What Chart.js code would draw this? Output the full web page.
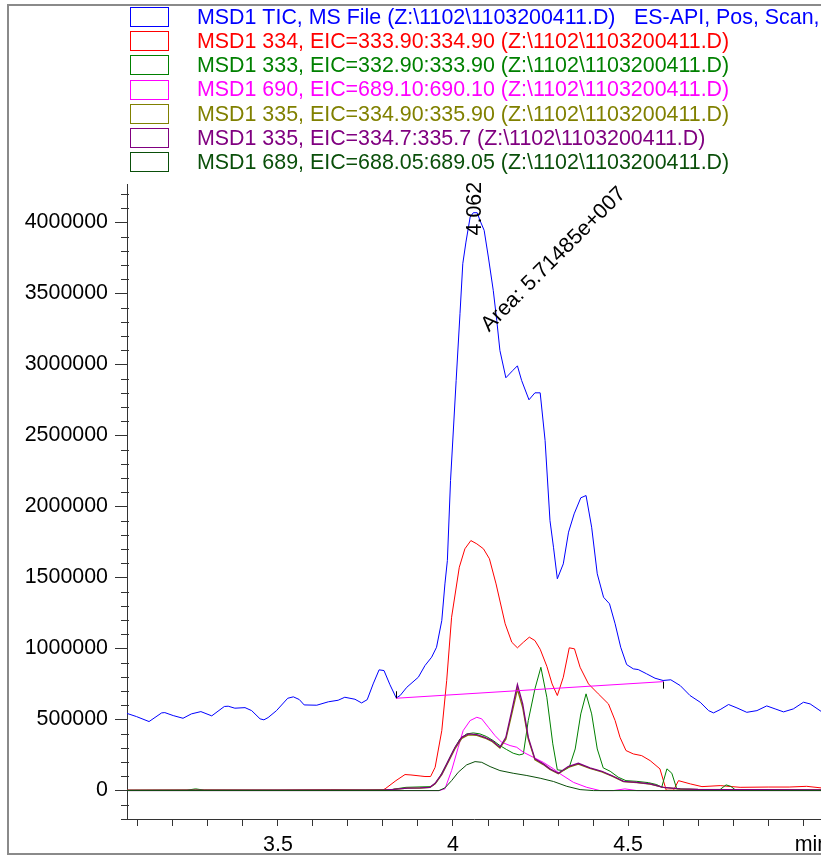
<!DOCTYPE html>
<html>
<head>
<meta charset="utf-8">
<script src="https://cdn.jsdelivr.net/npm/chart.js@4/dist/chart.umd.min.js"></script>
<style>
  html, body { margin: 0; padding: 0; background: #fff; }
  #chart { display: block; }
</style>
</head>
<body>
<canvas id="chart" width="821" height="856"></canvas>
<script>
// ===== MSD1 chromatogram (TIC + EICs) - Chart.js =====

// --- data (time in min, abundance in counts) ---
const ticTimes = [3.068, 3.096, 3.132, 3.168, 3.177, 3.201, 3.229, 3.253, 3.280, 3.311, 3.347, 3.358, 3.377, 3.406,
    3.425, 3.449, 3.460, 3.472, 3.496, 3.528, 3.544, 3.561, 3.575, 3.611, 3.644, 3.672, 3.691, 3.720, 3.739, 3.755,
    3.772, 3.789, 3.803, 3.820, 3.838, 3.849, 3.868, 3.901, 3.920, 3.939, 3.953, 3.968, 3.977, 3.984, 3.993, 4.009,
    4.020, 4.028, 4.037, 4.049, 4.058, 4.069, 4.077, 4.089, 4.101, 4.115, 4.125, 4.134, 4.151, 4.171, 4.184, 4.196,
    4.217, 4.234, 4.249, 4.263, 4.277, 4.287, 4.298, 4.315, 4.330, 4.346, 4.365, 4.380, 4.396, 4.412, 4.430, 4.447,
    4.463, 4.479, 4.496, 4.515, 4.529, 4.553, 4.577, 4.600, 4.622, 4.649, 4.677, 4.706, 4.730, 4.744, 4.763, 4.787,
    4.811, 4.839, 4.868, 4.896, 4.920, 4.944, 4.972, 5.001, 5.020, 5.051];
const ticValues = [544000, 521000, 486000, 547000, 549000, 528000, 509000, 540000, 556000, 526000, 592000, 594000, 580000, 584000,
    563000, 505000, 498000, 514000, 563000, 650000, 660000, 641000, 603000, 601000, 625000, 636000, 657000, 643000, 617000, 640000,
    751000, 850000, 845000, 745000, 652000, 669000, 727000, 798000, 880000, 939000, 1009000, 1197000, 1455000, 1620000, 2183000, 2887000,
    3357000, 3709000, 3861000, 4037000, 4068000, 4068000, 4014000, 3944000, 3756000, 3521000, 3310000, 3098000, 2906000, 2958000, 2990000, 2887000,
    2751000, 2800000, 2800000, 2465000, 1901000, 1713000, 1491000, 1596000, 1819000, 1948000, 2061000, 2077000, 1854000, 1526000, 1361000, 1315000,
    1174000, 1009000, 887000, 857000, 852000, 822000, 791000, 775000, 780000, 739000, 669000, 622000, 563000, 547000, 570000, 606000,
    582000, 551000, 563000, 596000, 575000, 554000, 575000, 622000, 610000, 558000];

const eic334Times = [3.069, 3.300, 3.500, 3.650, 3.750, 3.800, 3.806, 3.837, 3.863, 3.880, 3.906, 3.920, 3.936, 3.949,
    3.968, 3.982, 3.996, 4.018, 4.034, 4.051, 4.068, 4.087, 4.104, 4.123, 4.149, 4.168, 4.184, 4.201, 4.218, 4.234,
    4.249, 4.268, 4.283, 4.298, 4.315, 4.332, 4.347, 4.363, 4.387, 4.415, 4.444, 4.463, 4.477, 4.494, 4.515, 4.539,
    4.563, 4.591, 4.609, 4.630, 4.644, 4.678, 4.711, 4.763, 4.820, 4.900, 4.960, 5.010, 5.051];
const eic334Values = [3000, 4000, 3000, 6000, 4000, 6000, 12000, 70000, 113000, 110000, 103000, 99000, 99000, 164000,
    422000, 775000, 1220000, 1572000, 1702000, 1760000, 1737000, 1702000, 1632000, 1455000, 1174000, 1044000, 1005000, 1044000, 1080000, 1056000,
    995000, 875000, 751000, 669000, 798000, 1005000, 998000, 868000, 751000, 681000, 610000, 493000, 375000, 282000, 258000, 246000,
    211000, 153000, 3000, 3000, 70000, 47000, 28000, 35000, 23000, 25000, 25000, 30000, 19000];

const eic333Times = [3.069, 3.240, 3.265, 3.290, 3.500, 3.700, 3.800, 3.826, 3.866, 3.937, 3.949, 3.963, 3.982, 4.001,
    4.020, 4.039, 4.058, 4.077, 4.096, 4.115, 4.134, 4.153, 4.172, 4.189, 4.201, 4.215, 4.234, 4.251, 4.268, 4.285,
    4.298, 4.315, 4.332, 4.349, 4.365, 4.380, 4.396, 4.412, 4.429, 4.449, 4.472, 4.494, 4.525, 4.558, 4.582, 4.596,
    4.611, 4.625, 4.639, 4.700, 4.763, 4.780, 4.793, 4.806, 4.900, 5.051];
const eic333Values = [2000, 3000, 12000, 3000, 2000, 3000, 4000, 8000, 23000, 28000, 47000, 99000, 188000, 282000,
    364000, 399000, 406000, 399000, 380000, 352000, 317000, 289000, 263000, 251000, 258000, 493000, 716000, 868000, 657000, 329000,
    146000, 141000, 164000, 293000, 540000, 681000, 540000, 293000, 160000, 136000, 94000, 70000, 65000, 56000, 42000, 23000,
    153000, 122000, 12000, 8000, 8000, 40000, 30000, 6000, 4000, 3000];

const eic690Times = [3.069, 3.960, 3.977, 3.996, 4.015, 4.029, 4.049, 4.068, 4.082, 4.101, 4.120, 4.139, 4.163, 4.182,
    4.201, 4.229, 4.258, 4.287, 4.306, 4.344, 4.382, 4.420, 4.458, 4.491, 4.525, 5.051];
const eic690Values = [0, 0, 12000, 141000, 305000, 422000, 493000, 516000, 505000, 446000, 387000, 340000, 317000, 305000,
    270000, 235000, 199000, 153000, 118000, 58000, 23000, 0, 0, 12000, 0, 0];

const eic335aTimes = [3.069, 3.600, 3.800, 3.830, 3.870, 3.906, 3.934, 3.949, 3.968, 3.987, 4.006, 4.025, 4.044, 4.068,
    4.091, 4.111, 4.134, 4.151, 4.168, 4.184, 4.199, 4.215, 4.234, 4.258, 4.277, 4.301, 4.329, 4.358, 4.391, 4.425,
    4.453, 4.487, 4.525, 4.563, 4.601, 4.649, 4.700, 5.051];
const eic335aValues = [2000, 3000, 3000, 8000, 17000, 18000, 22000, 48000, 112000, 203000, 296000, 368000, 392000, 388000,
    370000, 347000, 300000, 362000, 540000, 712000, 585000, 362000, 216000, 183000, 149000, 119000, 164000, 187000, 156000, 132000,
    103000, 63000, 56000, 45000, 22000, 11000, 7000, 4000];

const eic335bTimes = [3.069, 3.600, 3.800, 3.830, 3.870, 3.906, 3.934, 3.949, 3.968, 3.987, 4.006, 4.025, 4.044, 4.068,
    4.091, 4.111, 4.134, 4.151, 4.168, 4.184, 4.199, 4.215, 4.234, 4.258, 4.277, 4.301, 4.329, 4.358, 4.391, 4.425,
    4.453, 4.487, 4.525, 4.563, 4.601, 4.649, 4.700, 5.051];
const eic335bValues = [2000, 3000, 3000, 8000, 18000, 19000, 23000, 51000, 117000, 211000, 305000, 375000, 399000, 394000,
    375000, 352000, 305000, 375000, 563000, 746000, 610000, 375000, 223000, 188000, 153000, 122000, 169000, 192000, 160000, 136000,
    106000, 65000, 58000, 47000, 23000, 12000, 8000, 4000];

const eic689Times = [3.069, 3.960, 3.977, 3.996, 4.015, 4.039, 4.063, 4.082, 4.106, 4.134, 4.172, 4.211, 4.249, 4.287,
    4.325, 4.363, 4.401, 5.051];
const eic689Values = [0, 0, 19000, 70000, 129000, 181000, 204000, 199000, 169000, 141000, 122000, 106000, 87000, 64000,
    30000, 7000, 0, 0];

// integration baseline of the TIC peak
const baselineTimes = [3.837, 4.601];
const baselineValues = [650000, 767000];

// axis ticks ('min' sits just right of the 5.0 tick, partly cut by the edge)
const xLabelTicks = [3.5, 4, 4.5, 5.025];
const xLabelTexts = ['3.5', '4', '4.5', 'min'];
const xUnitTick = 5.025;
const yLabelTicks = [0, 500000, 1000000, 1500000, 2000000, 2500000, 3000000, 3500000, 4000000];

const seriesLabels = [
    'MSD1 TIC, MS File (Z:\\1102\\1103200411.D)',
    'MSD1 334, EIC=333.90:334.90 (Z:\\1102\\1103200411.D)',
    'MSD1 333, EIC=332.90:333.90 (Z:\\1102\\1103200411.D)',
    'MSD1 690, EIC=689.10:690.10 (Z:\\1102\\1103200411.D)',
    'MSD1 335, EIC=334.90:335.90 (Z:\\1102\\1103200411.D)',
    'MSD1 335, EIC=334.7:335.7 (Z:\\1102\\1103200411.D)',
    'MSD1 689, EIC=688.05:689.05 (Z:\\1102\\1103200411.D)',
];
const seriesColors = ['#0000ff', '#ff0000', '#008000', '#ff00ff', '#808000', '#800080', '#0a4f0a'];
const ticExtra = 'ES-API, Pos, Scan, Frag: 70';

const peakLabel = '4.062';
const peakTime = 4.062;
const areaLabel = 'Area: 5.71485e+007';

const FONT = '"Liberation Sans", Arial, sans-serif';
const FONT_SIZE = 21.4;

/** zip a time array and a value array into {x, y} points */
function toPoints(times, values) {
    return times.map((t, i) => ({ x: t, y: values[i] }));
}

function lineDataset(label, times, values, color, order, width = 1) {
    return {
        label,
        data: toPoints(times, values),
        borderColor: color,
        borderWidth: width,
        pointRadius: 0,
        fill: false,
        tension: 0,
        order,
    };
}

/** tick positions: every 0.1 min on x, every 100000 counts on y */
function xTickList() {
    const out = [];
    for (let i = 31; i <= 50; i++) out.push({ value: i / 10 });
    out.push({ value: xUnitTick });
    return out;
}
function yTickList() {
    const out = [];
    for (let i = -2; i <= 42; i++) out.push({ value: i * 100000 });
    return out;
}

const isYMajor = (v) => yLabelTicks.includes(v);
const isUnitTick = (v) => Math.abs(v - xUnitTick) < 1e-6;

/** Frame, legend and peak annotations (drawn on the canvas around the plot) */
const decorPlugin = {
    id: 'decor',
    beforeDraw(chart) {
        const { ctx } = chart;
        ctx.save();
        ctx.fillStyle = '#fff';
        ctx.fillRect(0, 0, chart.width, chart.height);
        ctx.restore();
    },
    afterDraw(chart) {
        const { ctx } = chart;
        const xs = chart.scales.x;
        const ys = chart.scales.y;
        ctx.save();

        // outer frame
        ctx.strokeStyle = '#8a8a8a';
        ctx.lineWidth = 2;
        ctx.beginPath();
        ctx.moveTo(chart.width, 5);
        ctx.lineTo(8, 5);
        ctx.lineTo(8, 854);
        ctx.lineTo(chart.width, 854);
        ctx.stroke();

        // legend
        ctx.font = `${FONT_SIZE}px ${FONT}`;
        ctx.textBaseline = 'middle';
        ctx.textAlign = 'left';
        ctx.lineWidth = 1;
        seriesLabels.forEach((label, i) => {
            const y = 17 + i * 24.2;
            ctx.strokeStyle = seriesColors[i];
            ctx.strokeRect(130.5, Math.round(y - 10) + 0.5, 38, 19);
            ctx.fillStyle = seriesColors[i];
            ctx.fillText(label, 197, y + 1);
            if (i === 0) ctx.fillText(ticExtra, 634, y + 1);
        });

        // minor ticks on the y axis (short, crossing the axis line)
        ctx.strokeStyle = '#333';
        ctx.lineWidth = 1;
        ctx.beginPath();
        ys.ticks.forEach(t => {
            if (isYMajor(t.value)) return;
            const py = Math.round(ys.getPixelForValue(t.value)) + 0.5;
            ctx.moveTo(xs.left - 6, py);
            ctx.lineTo(xs.left + 2, py);
        });
        ctx.stroke();

        // integration baseline end markers
        const bx0 = xs.getPixelForValue(baselineTimes[0]);
        const by0 = ys.getPixelForValue(baselineValues[0]);
        const bx1 = xs.getPixelForValue(baselineTimes[1]);
        const by1 = ys.getPixelForValue(baselineValues[1]);
        ctx.strokeStyle = '#000';
        ctx.beginPath();
        ctx.moveTo(Math.round(bx0) + 0.5, by0);
        ctx.lineTo(Math.round(bx0) + 0.5, by0 - 7);
        ctx.moveTo(Math.round(bx1) + 0.5, by1);
        ctx.lineTo(Math.round(bx1) + 0.5, by1 + 7);
        ctx.stroke();

        // retention time label (vertical)
        ctx.fillStyle = '#000';
        ctx.font = `${FONT_SIZE}px ${FONT}`;
        ctx.save();
        ctx.translate(xs.getPixelForValue(peakTime), ys.getPixelForValue(3908000));
        ctx.rotate(-Math.PI / 2);
        ctx.textBaseline = 'middle';
        ctx.fillText(peakLabel, 0, 0);
        ctx.restore();

        // area label (diagonal)
        ctx.save();
        ctx.translate(xs.getPixelForValue(4.103), ys.getPixelForValue(3225000));
        ctx.rotate(-Math.PI / 4);
        ctx.textBaseline = 'alphabetic';
        ctx.fillText(areaLabel, 0, 0);
        ctx.restore();

        ctx.restore();
    },
};

function createChromatogram(canvas) {
    const datasets = [
        lineDataset(seriesLabels[0], ticTimes, ticValues, seriesColors[0], 9),
        lineDataset(seriesLabels[1], eic334Times, eic334Values, seriesColors[1], 8),
        lineDataset(seriesLabels[2], eic333Times, eic333Values, seriesColors[2], 7),
        lineDataset(seriesLabels[3], eic690Times, eic690Values, seriesColors[3], 6),
        lineDataset(seriesLabels[4], eic335aTimes, eic335aValues, seriesColors[4], 5, 1.3),
        lineDataset(seriesLabels[5], eic335bTimes, eic335bValues, seriesColors[5], 4, 1.3),
        lineDataset(seriesLabels[6], eic689Times, eic689Values, seriesColors[6], 3),
        lineDataset('baseline', baselineTimes, baselineValues, '#ff00ff', 1),
    ];

    const tickFont = { family: FONT, size: FONT_SIZE };

    return new Chart(canvas.getContext('2d'), {
        type: 'line',
        data: { datasets },
        plugins: [decorPlugin],
        options: {
            responsive: false,
            animation: false,
            layout: { padding: { top: 184, left: 0, right: 0, bottom: 0 } },
            plugins: {
                legend: { display: false },
                tooltip: { enabled: false },
            },
            scales: {
                x: {
                    type: 'linear',
                    min: 3.069,
                    max: 5.051,
                    afterBuildTicks: (scale) => { scale.ticks = xTickList(); },
                    afterFit: (scale) => {
                        scale.height = 37;
                        // let the 'min' label run off the edge instead of shrinking the plot
                        scale.paddingLeft = 0;
                        scale.paddingRight = 0;
                    },
                    border: { color: '#333', width: 1 },
                    grid: {
                        drawOnChartArea: false,
                        tickLength: 7,
                        color: '#333',
                        tickColor: (ctx) => (ctx.tick && isUnitTick(ctx.tick.value) ? 'rgba(0,0,0,0)' : '#333'),
                    },
                    ticks: {
                        autoSkip: false,
                        maxRotation: 0,
                        padding: 6,
                        color: '#000',
                        font: tickFont,
                        callback: (v) => {
                            const i = xLabelTicks.findIndex(m => Math.abs(v - m) < 1e-6);
                            return i >= 0 ? xLabelTexts[i] : '';
                        },
                    },
                },
                y: {
                    type: 'linear',
                    min: -200000,
                    max: 4270000,
                    afterBuildTicks: (scale) => { scale.ticks = yTickList(); },
                    afterFit: (scale) => { scale.width = 127; },
                    border: { color: '#333', width: 1 },
                    grid: {
                        drawOnChartArea: false,
                        tickLength: 12,
                        tickColor: (ctx) => (ctx.tick && isYMajor(ctx.tick.value) ? '#333' : 'rgba(0,0,0,0)'),
                    },
                    ticks: {
                        autoSkip: false,
                        padding: 7,
                        color: '#000',
                        font: tickFont,
                        callback: (v) => (isYMajor(v) ? String(v) : ''),
                    },
                },
            },
        },
    });
}

createChromatogram(document.getElementById('chart'));
</script>
</body>
</html>
